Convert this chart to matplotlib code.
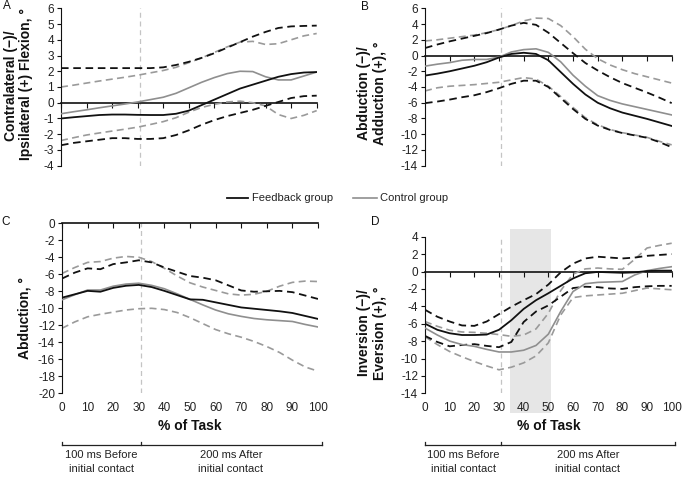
import matplotlib
matplotlib.use("Agg")
import matplotlib.pyplot as plt
from matplotlib.transforms import blended_transform_factory
from matplotlib.patches import Rectangle

plt.rcParams['font.family'] = ['Liberation Sans', 'DejaVu Sans']
plt.rcParams['axes.unicode_minus'] = False

# ---------------- data ----------------
pct = [0, 5, 10, 15, 20, 25, 30, 35, 40, 45, 50, 55, 60, 65, 70, 75, 80, 85, 90, 95, 100]
xticks = [0, 10, 20, 30, 40, 50, 60, 70, 80, 90, 100]
contact_pct = 31

# Panel A
a_fb_mean = [-1.0, -0.92, -0.85, -0.78, -0.75, -0.75, -0.77, -0.78, -0.78, -0.7, -0.5, -0.15, 0.2, 0.55, 0.9, 1.15, 1.4, 1.65, 1.82, 1.92, 1.95]
a_fb_up = [2.2, 2.2, 2.2, 2.2, 2.2, 2.2, 2.2, 2.2, 2.25, 2.4, 2.6, 2.85, 3.15, 3.5, 3.85, 4.2, 4.5, 4.75, 4.85, 4.88, 4.9]
a_fb_lo = [-2.7, -2.55, -2.45, -2.35, -2.25, -2.25, -2.3, -2.3, -2.25, -2.05, -1.75, -1.4, -1.1, -0.85, -0.65, -0.45, -0.2, 0.05, 0.3, 0.42, 0.45]
a_ct_mean = [-0.7, -0.57, -0.45, -0.32, -0.2, -0.08, 0.05, 0.2, 0.35, 0.6, 0.95, 1.3, 1.6, 1.85, 2.0, 1.98, 1.65, 1.45, 1.45, 1.7, 1.95]
a_ct_up = [1.0, 1.12, 1.25, 1.38, 1.5, 1.62, 1.75, 1.9, 2.05, 2.25, 2.55, 2.85, 3.2, 3.55, 3.85, 3.9, 3.7, 3.75, 4.0, 4.25, 4.4]
a_ct_lo = [-2.4, -2.22, -2.05, -1.92, -1.8, -1.68, -1.55, -1.38, -1.2, -0.95, -0.6, -0.3, -0.1, 0.05, 0.1, 0.0, -0.2, -0.75, -1.0, -0.8, -0.5]

# Panel B
b_fb_mean = [-2.55, -2.3, -2.0, -1.65, -1.3, -0.85, -0.25, 0.2, 0.35, 0.2, -0.6, -2.1, -3.6, -4.95, -6.0, -6.7, -7.25, -7.65, -8.05, -8.5, -8.95]
b_fb_up = [0.95, 1.4, 1.8, 2.15, 2.5, 2.85, 3.3, 3.8, 4.15, 3.9, 2.9, 1.6, 0.3, -0.95, -1.9, -2.75, -3.5, -4.1, -4.7, -5.35, -6.05]
b_fb_lo = [-6.05, -5.85, -5.6, -5.3, -5.05, -4.65, -4.15, -3.6, -3.2, -3.2, -4.0, -5.4, -6.8, -8.05, -8.9, -9.45, -9.85, -10.15, -10.45, -11.0, -11.65]
b_ct_mean = [-1.35, -1.1, -0.9, -0.6, -0.5, -0.5, -0.2, 0.45, 0.75, 0.85, 0.4, -0.8, -2.5, -3.9, -5.1, -5.7, -6.15, -6.5, -6.85, -7.2, -7.55]
b_ct_up = [1.85, 2.0, 2.2, 2.4, 2.6, 2.9, 3.3, 3.8, 4.4, 4.75, 4.7, 3.8, 2.4, 0.8, -0.4, -1.2, -1.8, -2.3, -2.7, -3.1, -3.5]
b_ct_lo = [-4.5, -4.1, -3.9, -3.8, -3.7, -3.55, -3.4, -3.1, -2.8, -3.0, -3.9, -5.2, -6.6, -7.9, -8.8, -9.4, -9.8, -10.1, -10.4, -10.9, -11.35]

# Panel C
c_fb_mean = [-8.75, -8.35, -7.95, -8.05, -7.6, -7.35, -7.25, -7.5, -7.95, -8.45, -8.95, -9.0, -9.3, -9.6, -9.9, -10.05, -10.2, -10.35, -10.55, -10.9, -11.25]
c_fb_up = [-6.5, -5.8, -5.3, -5.4, -4.8, -4.6, -4.35, -4.6, -5.2, -5.7, -6.2, -6.4, -6.7, -7.3, -7.9, -8.05, -8.0, -7.95, -8.1, -8.5, -8.9]
c_ct_mean = [-9.0, -8.4, -7.85, -7.85, -7.4, -7.15, -7.05, -7.3, -7.7, -8.3, -8.95, -9.6, -10.2, -10.65, -10.95, -11.2, -11.35, -11.45, -11.55, -11.9, -12.2]
c_ct_up = [-5.9, -5.2, -4.6, -4.5, -4.1, -3.9, -4.0, -4.5, -5.3, -6.2, -7.0, -7.5, -7.9, -8.3, -8.45, -8.35, -8.0, -7.4, -6.95, -6.8, -6.85]
c_ct_lo = [-12.35, -11.6, -11.0, -10.7, -10.45, -10.2, -10.05, -10.0, -10.15, -10.5, -11.1, -11.8, -12.5, -13.0, -13.4, -13.9, -14.5, -15.2, -16.1, -16.9, -17.4]

# Panel D
d_fb_mean = [-6.0, -6.7, -7.1, -7.3, -7.3, -7.25, -6.7, -5.6, -4.3, -3.3, -2.5, -1.65, -0.8, -0.2, -0.05, -0.1, -0.15, -0.1, 0.05, 0.1, 0.1]
d_fb_up = [-4.4, -5.2, -5.75, -6.2, -6.25, -5.75, -4.9, -4.05, -3.3, -2.6, -1.5, -0.1, 0.9, 1.5, 1.7, 1.6, 1.5, 1.6, 1.8, 1.9, 2.0]
d_fb_lo = [-7.4, -8.1, -8.6, -8.45, -8.35, -8.55, -8.7, -8.1, -5.8, -4.6, -3.9, -2.9, -1.9, -1.75, -1.8, -1.95, -2.0, -1.8, -1.7, -1.65, -1.65]
d_ct_mean = [-6.5, -7.3, -8.0, -8.4, -8.6, -8.95, -9.25, -9.25, -9.05, -8.5, -7.2, -4.6, -2.3, -1.4, -1.25, -1.2, -1.15, -0.4, 0.1, 0.35, 0.55]
d_ct_up = [-5.75, -6.3, -6.75, -6.95, -7.0, -7.1, -7.25, -7.45, -7.3, -6.6, -4.8, -2.2, -0.3, 0.3, 0.4, 0.3, 0.25, 1.4, 2.7, 3.0, 3.25]
d_ct_lo = [-7.5, -8.4, -9.2, -9.8, -10.35, -10.85, -11.3, -11.0, -10.5, -9.7, -8.2, -5.0, -3.0, -2.8, -2.7, -2.6, -2.5, -2.2, -1.9, -2.0, -2.1]
d_shade = (34.5, 51)

# ---------------- style ----------------
W, H = 683, 479
BLACK = '#111111'
GRAY = '#8f8f8f'
GRAYD = '#9a9a9a'
DASH = (0, (4.2, 2.6))

fig = plt.figure(figsize=(W / 100, H / 100), dpi=100)


def make_ax(l, r, top, bottom):
    return fig.add_axes([l / W, 1 - bottom / H, (r - l) / W, (bottom - top) / H])


def style(ax, ylim, ystep):
    ax.set_xlim(0, 100)
    ax.set_ylim(*ylim)
    ax.set_xticks(xticks)
    ax.set_yticks(list(range(ylim[0], ylim[1] + 1, ystep)))
    for s in ('top', 'right'):
        ax.spines[s].set_visible(False)
    ax.spines['bottom'].set_position(('data', 0))
    ax.spines['bottom'].set_linewidth(1.2)
    ax.spines['bottom'].set_color(BLACK)
    ax.spines['bottom'].set_zorder(1)
    ax.spines['left'].set_linewidth(0.8)
    ax.spines['left'].set_color(BLACK)
    ax.tick_params(axis='x', direction='out', length=3.5, width=0.8, labelbottom=False, color=BLACK)
    ax.tick_params(axis='y', direction='out', length=3, width=0.8, labelsize=8.5, labelcolor='#222222', color=BLACK, pad=2)
    ax.patch.set_alpha(0)
    ax.axvline(contact_pct, color='#c4c4c4', lw=0.9, ls=(0, (4, 3)), zorder=0.5)


def plot_set(ax, fbm, fbu, fbl, ctm, ctu, ctl):
    if ctu is not None:
        ax.plot(pct, ctu, color=GRAYD, lw=1.2, ls=DASH, zorder=2)
    if ctl is not None:
        ax.plot(pct, ctl, color=GRAYD, lw=1.2, ls=DASH, zorder=2)
    if fbu is not None:
        ax.plot(pct, fbu, color=BLACK, lw=1.3, ls=DASH, zorder=3)
    if fbl is not None:
        ax.plot(pct, fbl, color=BLACK, lw=1.3, ls=DASH, zorder=3)
    ax.plot(pct, ctm, color=GRAY, lw=1.2, zorder=4)
    ax.plot(pct, fbm, color=BLACK, lw=1.3, zorder=5)


def bottom_ticks(ax):
    tr = blended_transform_factory(ax.transData, fig.transFigure)
    for v in xticks:
        ax.text(v, 1 - 408 / H, str(v), transform=tr, ha='center', va='center',
                fontsize=8.5, color='#222222')
    ax.text(50, 1 - 426 / H, '% of Task', transform=tr, ha='center', va='center',
            fontsize=10, fontweight='bold', color='#111111')
    yb = 1 - 445 / H
    yt = 1 - 441.5 / H
    ax.plot([0, 101.5], [yb, yb], transform=tr, color='#222222', lw=0.9, clip_on=False)
    for xv in (0, contact_pct, 101.5):
        ax.plot([xv, xv], [yb, yt], transform=tr, color='#222222', lw=0.9, clip_on=False)
    ax.text(15.5, 1 - 455 / H, '100 ms Before', transform=tr, ha='center', va='center', fontsize=8, color='#222222')
    ax.text(15.5, 1 - 469 / H, 'initial contact', transform=tr, ha='center', va='center', fontsize=8, color='#222222')
    ax.text(66, 1 - 455 / H, '200 ms After', transform=tr, ha='center', va='center', fontsize=8, color='#222222')
    ax.text(66, 1 - 469 / H, 'initial contact', transform=tr, ha='center', va='center', fontsize=8, color='#222222')


# Panel A
axA = make_ax(61, 316.7, 8.3, 165.7)
style(axA, (-4, 6), 1)
plot_set(axA, a_fb_mean, a_fb_up, a_fb_lo, a_ct_mean, a_ct_up, a_ct_lo)

# Panel B
axB = make_ax(425, 671.7, 8.3, 165.7)
style(axB, (-14, 6), 2)
plot_set(axB, b_fb_mean, b_fb_up, b_fb_lo, b_ct_mean, b_ct_up, b_ct_lo)

# Panel C
axC = make_ax(62, 318, 223.3, 393.3)
style(axC, (-20, 0), 2)
plot_set(axC, c_fb_mean, c_fb_up, None, c_ct_mean, c_ct_up, c_ct_lo)
bottom_ticks(axC)

# Panel D
axD = make_ax(425, 671.7, 236.7, 393.3)
style(axD, (-14, 4), 2)
plot_set(axD, d_fb_mean, d_fb_up, d_fb_lo, d_ct_mean, d_ct_up, d_ct_lo)
trD = blended_transform_factory(axD.transData, fig.transFigure)
axD.add_patch(Rectangle((d_shade[0], 1 - 413 / H), d_shade[1] - d_shade[0], (413 - 229) / H,
                        transform=trD, facecolor='#e6e6e6', edgecolor='none', zorder=0, clip_on=False))
bottom_ticks(axD)

# y labels
lab = dict(rotation=90, ha='center', va='center', fontsize=10, fontweight='bold', multialignment='center', color='#111111')
fig.text(11 / W, 1 - 86 / H, 'Contralateral (\u2212)/', **lab)
fig.text(26 / W, 1 - 84 / H, 'Ipsilateral (+) Flexion, \u00b0', **lab)
fig.text(372 / W, 1 - 93 / H, 'Abduction (\u2212)/\nAdduction (+), \u00b0', **lab)
fig.text(25 / W, 1 - 318 / H, 'Abduction, \u00b0', **lab)
fig.text(372 / W, 1 - 333 / H, 'Inversion (\u2212)/\nEversion (+), \u00b0', **lab)

# panel letters
for t, xx, yy in [('A', 7, 6), ('B', 365, 7), ('C', 6, 222), ('D', 375, 222)]:
    fig.text(xx / W, 1 - yy / H, t, ha='center', va='center', fontsize=8.5, color='#111111')

# legend
yl = 1 - 198 / H
fig.add_artist(plt.Line2D([226.7 / W, 248.3 / W], [yl, yl], color=BLACK, lw=1.3))
fig.text(251.7 / W, yl, 'Feedback group', ha='left', va='center', fontsize=8, color='#222222')
fig.add_artist(plt.Line2D([353 / W, 377 / W], [yl, yl], color=GRAY, lw=1.2))
fig.text(380 / W, yl, 'Control group', ha='left', va='center', fontsize=8, color='#222222')

fig.savefig('out.png', dpi=100)
